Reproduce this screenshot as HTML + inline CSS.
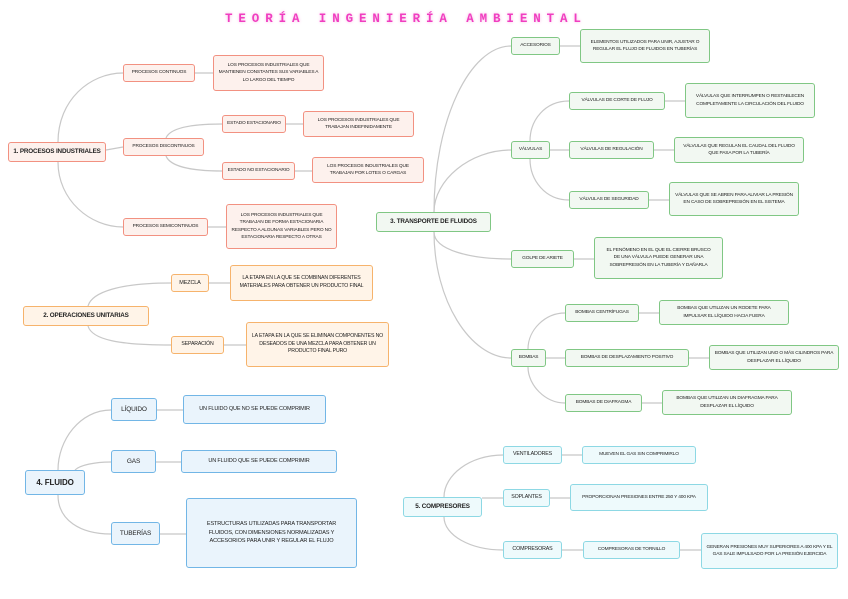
<!DOCTYPE html>
<html><head><meta charset="utf-8"><style>
body{margin:0;width:848px;height:599px;background:#fff;position:relative;overflow:hidden;font-family:"Liberation Sans",sans-serif;}
.n{position:absolute;box-sizing:border-box;display:flex;align-items:center;justify-content:center;text-align:center;color:#222;border-radius:3px;border:1.5px solid;line-height:1.5;font-size:4.8px;letter-spacing:-0.15px;padding:0 4px;}
.s{white-space:nowrap;padding:0;}
.r{background:#fdf1ed;border-color:#f29181;}
.o{background:#fff4e8;border-color:#f6b36c;}
.g{background:#f2f8f2;border-color:#80c784;}
.b{background:#eaf4fc;border-color:#72b6e6;font-size:6.5px;}
.c{background:#eefafc;border-color:#8dd8e4;}
.h{font-weight:bold;font-size:6.3px;}
svg{position:absolute;left:0;top:0;}
.t{position:absolute;left:225px;top:12px;color:#f03ec0;font-size:12.5px;font-weight:bold;letter-spacing:5.9px;font-family:"Liberation Mono",monospace;text-shadow:0 0 3px #f9b7e6;white-space:nowrap;}
</style></head><body>
<svg width="848" height="599" fill="none" stroke="#c8c8c8" stroke-width="1.2">
<path d="M58,142 C58,100 90,73 123,73"/><path d="M106,150 L123,147"/><path d="M58,162 C58,200 90,227 123,227"/>
<path d="M195,73 L213,73"/><path d="M166,138 C170,128 190,124 222,124"/><path d="M166,156 C170,166 190,171 222,171"/>
<path d="M286,124 L303,124"/><path d="M295,171 L312,171"/><path d="M208,227 L226,227"/>
<path d="M88,306 C92,292 120,283 171,283"/><path d="M88,326 C92,340 120,345 171,345"/><path d="M209,283 L230,283"/><path d="M224,345 L246,345"/>
<path d="M434,212 C434,120 470,46 511,46"/><path d="M434,212 C434,180 470,150 511,150"/><path d="M434,232 C434,250 470,259 511,259"/><path d="M434,232 C434,300 470,358 511,358"/>
<path d="M560,46 L580,46"/><path d="M530,141 C530,120 545,101 569,101"/><path d="M550,150 L569,150"/><path d="M530,159 C530,180 545,200 569,200"/>
<path d="M665,101 L685,101"/><path d="M654,150 L674,150"/><path d="M649,200 L669,200"/><path d="M574,259 L594,259"/>
<path d="M528,349 C528,330 545,313 565,313"/><path d="M546,358 L565,358"/><path d="M528,367 C528,385 545,403 565,403"/>
<path d="M639,313 L659,313"/><path d="M689,358 L709,358"/><path d="M642,403 L662,403"/>
<path d="M58,470 C58,440 80,410 111,410"/><path d="M75,470 C80,465 95,462 111,462"/><path d="M58,495 C58,520 80,534 111,534"/>
<path d="M157,410 L183,410"/><path d="M156,462 L181,462"/><path d="M160,534 L186,534"/>
<path d="M444,497 C444,475 470,455 503,455"/><path d="M482,498 L503,498"/><path d="M444,517 C444,535 470,550 503,550"/>
<path d="M562,455 L582,455"/><path d="M550,498 L570,498"/><path d="M562,550 L583,550"/><path d="M680,550 L701,550"/>
</svg>
<div class="t">TEORÍA INGENIERÍA AMBIENTAL</div>

<div class="n r h s" style="left:8px;top:142px;width:98px;height:20px">1. PROCESOS INDUSTRIALES</div>
<div class="n r s" style="left:123px;top:64px;width:72px;height:18px">PROCESOS CONTINUOS</div>
<div class="n r" style="left:213px;top:55px;width:111px;height:36px">LOS PROCESOS INDUSTRIALES QUE MANTIENEN CONSTANTES SUS VARIABLES A LO LARGO DEL TIEMPO</div>
<div class="n r s" style="left:123px;top:138px;width:81px;height:18px">PROCESOS DISCONTINUOS</div>
<div class="n r s" style="left:222px;top:115px;width:64px;height:18px">ESTADO ESTACIONARIO</div>
<div class="n r" style="left:303px;top:111px;width:111px;height:26px">LOS PROCESOS INDUSTRIALES QUE TRABAJAN INDEFINIDAMENTE</div>
<div class="n r s" style="left:222px;top:162px;width:73px;height:18px">ESTADO NO ESTACIONARIO</div>
<div class="n r" style="left:312px;top:157px;width:112px;height:26px">LOS PROCESOS INDUSTRIALES QUE TRABAJAN POR LOTES O CARGAS</div>
<div class="n r s" style="left:123px;top:218px;width:85px;height:18px">PROCESOS SEMICONTINUOS</div>
<div class="n r" style="left:226px;top:204px;width:111px;height:45px">LOS PROCESOS INDUSTRIALES QUE TRABAJAN DE FORMA ESTACIONARIA RESPECTO A ALGUNAS VARIABLES PERO NO ESTACIONARIA RESPECTO A OTRAS</div>

<div class="n o h s" style="left:23px;top:306px;width:126px;height:20px">2. OPERACIONES UNITARIAS</div>
<div class="n o s" style="left:171px;top:274px;width:38px;height:18px;font-size:5.5px">MEZCLA</div>
<div class="n o" style="left:230px;top:265px;width:143px;height:36px;font-size:5.2px">LA ETAPA EN LA QUE SE COMBINAN DIFERENTES MATERIALES PARA OBTENER UN PRODUCTO FINAL</div>
<div class="n o s" style="left:171px;top:336px;width:53px;height:18px;font-size:5.2px">SEPARACIÓN</div>
<div class="n o" style="left:246px;top:322px;width:143px;height:45px;font-size:5.2px">LA ETAPA EN LA QUE SE ELIMINAN COMPONENTES NO DESEADOS DE UNA MEZCLA PARA OBTENER UN PRODUCTO FINAL PURO</div>

<div class="n g h s" style="left:376px;top:212px;width:115px;height:20px">3. TRANSPORTE DE FLUIDOS</div>
<div class="n g s" style="left:511px;top:37px;width:49px;height:18px">ACCESORIOS</div>
<div class="n g" style="left:580px;top:29px;width:130px;height:34px">ELEMENTOS UTILIZADOS PARA UNIR, AJUSTAR O REGULAR EL FLUJO DE FLUIDOS EN TUBERÍAS</div>
<div class="n g s" style="left:511px;top:141px;width:39px;height:18px">VÁLVULAS</div>
<div class="n g s" style="left:569px;top:92px;width:96px;height:18px">VÁLVULAS DE CORTE DE FLUJO</div>
<div class="n g" style="left:685px;top:83px;width:130px;height:35px">VÁLVULAS QUE INTERRUMPEN O RESTABLECEN COMPLETAMENTE LA CIRCULACIÓN DEL FLUIDO</div>
<div class="n g s" style="left:569px;top:141px;width:85px;height:18px">VÁLVULAS DE REGULACIÓN</div>
<div class="n g" style="left:674px;top:137px;width:130px;height:26px">VÁLVULAS QUE REGULAN EL CAUDAL DEL FLUIDO QUE PASA POR LA TUBERÍA</div>
<div class="n g s" style="left:569px;top:191px;width:80px;height:18px">VÁLVULAS DE SEGURIDAD</div>
<div class="n g" style="left:669px;top:182px;width:130px;height:34px">VÁLVULAS QUE SE ABREN PARA ALIVIAR LA PRESIÓN EN CASO DE SOBREPRESIÓN EN EL SISTEMA</div>
<div class="n g s" style="left:511px;top:250px;width:63px;height:18px">GOLPE DE ARIETE</div>
<div class="n g" style="left:594px;top:237px;width:129px;height:42px;padding:0 10px">EL FENÓMENO EN EL QUE EL CIERRE BRUSCO DE UNA VÁLVULA PUEDE GENERAR UNA SOBREPRESIÓN EN LA TUBERÍA Y DAÑARLA</div>
<div class="n g s" style="left:511px;top:349px;width:35px;height:18px">BOMBAS</div>
<div class="n g s" style="left:565px;top:304px;width:74px;height:18px">BOMBAS CENTRÍFUGAS</div>
<div class="n g" style="left:659px;top:300px;width:130px;height:25px;padding:0 12px">BOMBAS QUE UTILIZAN UN RODETE PARA IMPULSAR EL LÍQUIDO HACIA FUERA</div>
<div class="n g s" style="left:565px;top:349px;width:124px;height:18px">BOMBAS DE DESPLAZAMIENTO POSITIVO</div>
<div class="n g" style="left:709px;top:345px;width:130px;height:25px">BOMBAS QUE UTILIZAN UNO O MÁS CILINDROS PARA DESPLAZAR EL LÍQUIDO</div>
<div class="n g s" style="left:565px;top:394px;width:77px;height:18px">BOMBAS DE DIAFRAGMA</div>
<div class="n g" style="left:662px;top:390px;width:130px;height:25px;padding:0 12px">BOMBAS QUE UTILIZAN UN DIAFRAGMA PARA DESPLAZAR EL LÍQUIDO</div>

<div class="n b h s" style="left:25px;top:470px;width:60px;height:25px;font-size:8px">4. FLUIDO</div>
<div class="n b s" style="left:111px;top:398px;width:46px;height:23px">LÍQUIDO</div>
<div class="n b s" style="left:183px;top:395px;width:143px;height:29px;font-size:5.5px">UN FLUIDO QUE NO SE PUEDE COMPRIMIR</div>
<div class="n b s" style="left:111px;top:450px;width:45px;height:23px">GAS</div>
<div class="n b s" style="left:181px;top:450px;width:156px;height:23px;font-size:5.5px">UN FLUIDO QUE SE PUEDE COMPRIMIR</div>
<div class="n b s" style="left:111px;top:522px;width:49px;height:23px">TUBERÍAS</div>
<div class="n b" style="left:186px;top:498px;width:171px;height:70px;font-size:5.6px;padding:0 10px">ESTRUCTURAS UTILIZADAS PARA TRANSPORTAR FLUIDOS, CON DIMENSIONES NORMALIZADAS Y ACCESORIOS PARA UNIR Y REGULAR EL FLUJO</div>

<div class="n c h s" style="left:403px;top:497px;width:79px;height:20px">5. COMPRESORES</div>
<div class="n c s" style="left:503px;top:446px;width:59px;height:18px;font-size:5.3px">VENTILADORES</div>
<div class="n c s" style="left:582px;top:446px;width:114px;height:18px">MUEVEN EL GAS SIN COMPRIMIRLO</div>
<div class="n c s" style="left:503px;top:489px;width:47px;height:18px;font-size:5.3px">SOPLANTES</div>
<div class="n c s" style="left:570px;top:484px;width:138px;height:27px">PROPORCIONAN PRESIONES ENTRE 250 Y 400 KPA</div>
<div class="n c s" style="left:503px;top:541px;width:59px;height:18px;font-size:5.3px">COMPRESORAS</div>
<div class="n c s" style="left:583px;top:541px;width:97px;height:18px">COMPRESORAS DE TORNILLO</div>
<div class="n c" style="left:701px;top:533px;width:137px;height:36px">GENERAN PRESIONES MUY SUPERIORES A 400 KPA Y EL GAS SALE IMPULSADO POR LA PRESIÓN EJERCIDA</div>
</body></html>
